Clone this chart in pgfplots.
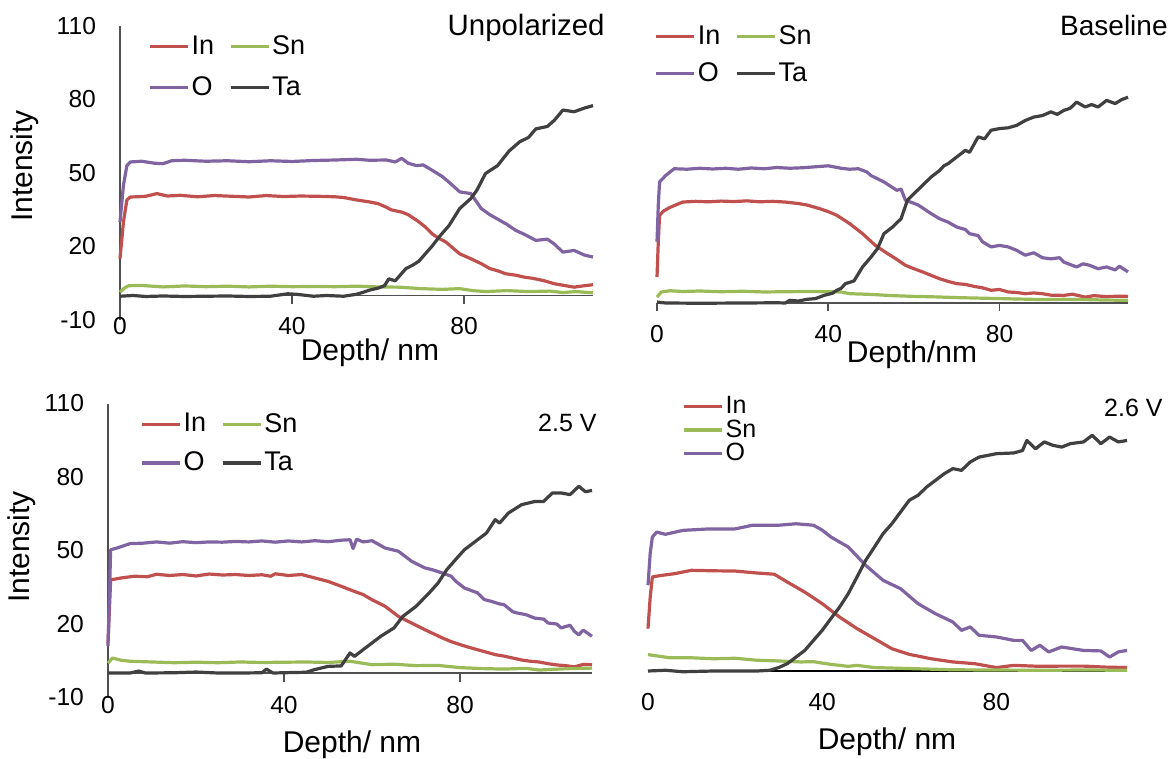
\documentclass[border=0pt]{standalone}
\usepackage{fontspec}
\setmainfont{Liberation Sans}
\usepackage{pgfplots}
\pgfplotsset{compat=1.18}

\definecolor{cIn}{HTML}{C0504D}
\definecolor{cSn}{HTML}{9BBB59}
\definecolor{cO}{HTML}{8064A2}
\definecolor{cTa}{HTML}{404040}
\definecolor{axiscol}{HTML}{505050}

\pgfplotsset{
  panel/.style={
    scale only axis, clip=false,
    xmin=0, xmax=110, ymin=-10, ymax=110,
    xtick={0,40,80}, ytick={-10,20,50,80,110},
    axis x line*=bottom, x axis line style={draw=none}, xtick style={draw=none},
    axis y line*=left, ytick style={draw=none},
    ticklabel style={font=\fontsize{12.3}{14}\selectfont, text=black},
    /pgf/number format/assume math mode=true,
    every axis plot/.append style={line width=1.6pt, line join=round},
    legend image code/.code={\draw[##1] (0pt,0pt) -- (19pt,0pt);},
    legend cell align=left,
    legend style={draw=none, fill=none, inner sep=0pt, anchor=north west,
      font=\fontsize{13.5}{15}\selectfont, nodes={inner sep=1pt},
      /tikz/every even column/.append style={column sep=6.5pt}},
  },
  withy/.style={y axis line style={axiscol, line width=0.8pt},
    yticklabel style={xshift=-8.5pt}},
  noy/.style={y axis line style={draw=none}, yticklabels={}},
}

\begin{document}
\begin{tikzpicture}
\path[use as bounding box] (0pt,0pt) rectangle (585.5pt,-379.5pt);

% ---------- Unpolarized ----------
\begin{axis}[panel, withy, at={(60pt,-160pt)}, anchor=south west,
  width=236.5pt, height=147pt,
  xticklabel style={yshift=5.1pt},
  legend columns=2,
  legend style={at={(0.059,0.975)}, row sep=7.5pt}]
\draw[axiscol, line width=0.8pt] (axis cs:0,0) -- (axis cs:110,0);
\draw[axiscol, line width=0.8pt] (axis cs:40,0) -- (axis cs:40,-3.6);
\draw[axiscol, line width=0.8pt] (axis cs:80,0) -- (axis cs:80,-3.6);
\addplot[cIn] coordinates {(0,15)(0.8,30)(1.6,39)(2.4,40.2)(4,40.3)(6,40.5)(8.6,41.6)(11,40.6)(14,40.9)(18,40.3)(22,40.8)(26,40.5)(30,40.2)(34,40.8)(38,40.4)(42,40.6)(46,40.5)(50,40.3)(52,40)(55,39)(58,38.2)(60,37.5)(62,36)(63,35)(65.6,34)(67,33)(69,30.7)(71,28)(72.7,25)(74,23.5)(75.8,21.8)(77,20)(79,17)(81.6,15)(84,13)(86,11)(88,10)(89.6,8.9)(92,8.3)(94,7.5)(96,7)(98.5,6.1)(101,4.8)(103,4.2)(105.6,3.4)(108,4)(110,4.4)};
\addlegendentry{In}
\addplot[cSn] coordinates {(0,1.4)(1,3)(2,4)(5,4.1)(10,3.5)(15,3.9)(20,3.6)(25,3.8)(30,3.5)(35,3.8)(40,3.6)(45,3.7)(50,3.6)(55,3.8)(60,3.5)(65,3.4)(70,2.8)(75,2.5)(79,2.8)(82,2)(85,1.6)(90,2)(95,1.6)(100,1.8)(103,1.2)(106,1.6)(110,1.1)};
\addlegendentry{Sn}
\addplot[cO] coordinates {(0,30)(0.8,45)(1.6,53)(2.4,54.5)(5,54.8)(8,54)(10,53.8)(12,55)(15,55.2)(20,54.8)(25,55)(30,54.6)(35,55)(40,54.7)(45,55.1)(50,55.3)(55,55.6)(58,55.2)(62,55.3)(64,54.5)(65.5,56)(67,54)(69,53)(70.5,53.3)(72.7,51)(75,48.5)(77,45.5)(79,42.3)(81.6,41.6)(84,35.5)(86,33)(88,31)(90,29)(92,26.6)(94,25)(96.7,22.5)(99.4,23)(101,21)(103,17.7)(105.6,18.4)(108,16.5)(110,15.7)};
\addlegendentry{O}
\addplot[cTa] coordinates {(0,-0.3)(3,0)(6,-0.4)(10,-0.2)(15,-0.4)(20,-0.3)(25,-0.2)(30,-0.4)(35,-0.3)(39,0.7)(41,0.5)(45,-0.3)(48,0)(52,-0.3)(55,0.5)(56.7,1.4)(58,2.2)(60,3)(61.5,4)(62.5,6.8)(64,6)(65,8)(66.5,11)(68,12.3)(69.5,14)(71,17)(72.5,20)(74.5,24.5)(76.5,28.5)(79,35.5)(81.6,39.6)(83,43)(85,49.8)(87.8,53)(90.5,59)(93,62.8)(95,64.5)(96.7,68)(99.4,69)(101,71.5)(103,75.7)(105.6,75)(108,76.5)(110,77.5)};
\addlegendentry{Ta}
\end{axis}

% ---------- Baseline ----------
\begin{axis}[panel, noy, at={(328.5pt,-163.75pt)}, anchor=south west,
  width=235.5pt, height=147pt,
  xticklabel style={yshift=4.85pt},
  legend columns=2,
  legend style={at={(-0.006,1.035)}, row sep=5.5pt}]
\draw[axiscol, line width=0.8pt] (axis cs:0,0) -- (axis cs:110,0);
\draw[axiscol, line width=0.8pt] (axis cs:0,0) -- (axis cs:0,-3.3);
\draw[axiscol, line width=0.8pt] (axis cs:40,0) -- (axis cs:40,-3.3);
\draw[axiscol, line width=0.8pt] (axis cs:80,0) -- (axis cs:80,-3.3);
\addplot[cIn] coordinates {(0,10.6)(0.3,25)(0.6,35.8)(1.5,37.5)(3,39)(6,41.2)(9,41.5)(12,41.3)(15,41.6)(18,41.4)(21,41.7)(24,41.3)(27,41.5)(30,41.2)(33,40.6)(35,40)(38,38.5)(40,37.3)(42,35.8)(45,32.4)(48,28.3)(51,23.5)(54,20)(56,17.8)(58,15.4)(60,14)(62,12.7)(64,11.3)(66,9.9)(68,8.8)(70,7.9)(72,7.6)(74,6.8)(76,6.2)(78,5.2)(80,5.5)(82,4.5)(84,4.3)(86,3.8)(88,4.1)(90,3.8)(92,3.2)(95,3.1)(97,3.6)(100,2.4)(102,3)(105,2.6)(108,2.8)(110,2.7)};
\addlegendentry{In}
\addplot[cSn] coordinates {(0,2.4)(1,4.5)(3,5)(6,4.7)(10,4.9)(15,4.6)(20,4.8)(25,4.5)(30,4.6)(35,4.7)(40,4.6)(43,4.5)(45,3.8)(50,3.5)(55,3)(60,2.7)(65,2.5)(70,2.2)(75,2)(80,1.8)(85,1.6)(90,1.4)(95,1.5)(100,1.4)(105,1.2)(110,1.1)};
\addlegendentry{Sn}
\addplot[cO] coordinates {(0,25)(0.3,40)(0.6,49.4)(2,52)(4,54.8)(7,54.6)(10,55)(13,54.7)(16,55)(19,54.6)(22,55.1)(25,54.8)(28,55.3)(31,55)(34,55.2)(37,55.6)(40,56)(43,55)(45,54.6)(47,54.8)(49,53.5)(50,52)(53,49.4)(56,46)(57,46.5)(58,42)(61,40)(64,36.5)(66,34.4)(68,33)(70,31)(72,30)(73,28.3)(75,27.5)(76,25)(78,22.9)(80,23.5)(82,22.9)(84,21.5)(86,19.5)(88,20.5)(90,18.5)(92,18)(94,18.5)(95,16.7)(98,14.7)(99.5,16)(101,15.4)(103,14)(105,14.7)(107,13.5)(108,15)(110,12.7)};
\addlegendentry{O}
\addplot[cTa] coordinates {(0,0.4)(2,0)(10,-0.1)(20,0)(28,0.1)(30,0)(31,1.1)(33,0.8)(35,1.5)(37,1.8)(39,3.1)(41,4)(42,5.2)(43,6)(44,7.9)(46,9)(48,14.7)(50,18.8)(51.5,22.2)(53,28.3)(55,31)(57,34.4)(58.5,42)(60,44.6)(62,48)(64,51.4)(66,54.1)(67,56)(68,56.9)(70,59.6)(72,62.3)(73,61.5)(75,67.8)(76.5,67)(78,70.5)(80,71.2)(82,71.5)(84,72.5)(86,74.5)(88,75.9)(90,76.5)(92,78)(93.5,77)(95,78.6)(96.5,79.5)(98,82)(100,80)(101.5,81)(103,80)(105,82.7)(107,81.4)(108.5,83)(110,84)};
\addlegendentry{Ta}
\end{axis}

% ---------- 2.5 V ----------
\begin{axis}[panel, withy, at={(54pt,-348.75pt)}, anchor=south west,
  width=242pt, height=147pt,
  xticklabel style={yshift=4pt},
  legend columns=2,
  legend style={at={(0.066,0.975)}, row sep=6.5pt}]
\draw[axiscol, line width=0.8pt] (axis cs:0,0) -- (axis cs:110,0);
\draw[axiscol, line width=0.8pt] (axis cs:40,0) -- (axis cs:40,-3.5);
\draw[axiscol, line width=0.8pt] (axis cs:80,0) -- (axis cs:80,-3.5);
\addplot[cIn] coordinates {(0,12.2)(0.3,25)(0.6,38)(3,38.8)(6,39.5)(9,39.3)(11,40.3)(14,39.8)(17,40.2)(20,39.6)(23,40.4)(26,40)(29,40.2)(32,39.8)(35,40.1)(37,39.5)(38,40.5)(41,39.8)(44,40.2)(47,38.8)(50,37.4)(53,35.4)(56,33.3)(58,32)(60,29.9)(63,27.2)(66,23.1)(69,20.4)(72,17.7)(74,16)(76,14.3)(78,12.8)(80,11.6)(82,10.5)(84,9.5)(86,8.5)(88,7.5)(90,6.9)(92,6.1)(94,5.3)(96,4.8)(98,4.5)(100,3.8)(102,3.3)(104,3)(106,2.5)(108,3.5)(110,3.4)};
\addlegendentry{In}
\addplot[cSn] coordinates {(0,4)(1,6.1)(3,5.2)(5,4.8)(10,4.5)(15,4.2)(20,4.4)(25,4.2)(30,4.5)(35,4.3)(40,4.4)(45,4.5)(50,4.3)(55,4.8)(60,3.4)(65,3.6)(70,3)(75,3.1)(80,2.2)(85,1.8)(90,1.6)(95,1.9)(98,1.2)(100,1.4)(105,1.8)(110,2)};
\addlegendentry{Sn}
\addplot[cO] coordinates {(0,11)(0.3,30)(0.6,50.3)(2,51)(5,52.8)(8,53)(11,53.5)(14,53)(17,53.6)(20,53.2)(23,53.5)(26,53.4)(29,53.7)(32,53.5)(35,53.9)(38,53.4)(41,53.9)(44,53.5)(47,54)(50,53.6)(53,54.2)(55,54.4)(55.7,50.8)(56.5,54.6)(58,53.5)(60,54)(63,51)(66,49.7)(69,45.6)(72,42.9)(74,42)(76,40.8)(78,39.5)(79,37.5)(81,34.7)(84,32.7)(85.5,30)(87,29.3)(89,28.2)(90,27.9)(92,25)(93,24.5)(95,23.8)(97,22.4)(99,22)(100,20.4)(102,20)(103,18.4)(105,19.5)(106,17)(107,15.6)(108,17.5)(110,15)};
\addlegendentry{O}
\addplot[cTa] coordinates {(0,0)(5,0)(7,0.8)(8.5,0)(15,0.1)(20,0.4)(25,0)(30,0)(35,0.1)(36,1.6)(37.5,0)(42,0.2)(45,0.3)(47,1.4)(50,2.7)(53,2.9)(55,8.2)(56,6.8)(59,10.9)(62,15)(65,18.4)(67,23.1)(70,27.2)(73,32.7)(75,36.7)(77,42.2)(79,46.3)(81,50.3)(84,54.4)(86,57.1)(88,62.6)(89,61.2)(91,65.3)(94,68.7)(97,70)(99,70)(101,73.5)(103,73.5)(105,72.8)(107,76.2)(108.5,74)(110,74.5)};
\addlegendentry{Ta}
\end{axis}

% ---------- 2.6 V ----------
\begin{axis}[panel, noy, at={(324pt,-347.75pt)}, anchor=south west,
  width=239.5pt, height=147pt,
  xticklabel style={yshift=4.85pt},
  legend columns=1,
  legend style={at={(0.071,1.025)}, row sep=-0.5pt, font=\fontsize{12.5}{13}\selectfont}]
\draw[black, line width=0.6pt] (axis cs:0,0) -- (axis cs:110,0);
\addplot[cIn] coordinates {(0,17.3)(0.5,30)(1,38.4)(3,39)(6,39.7)(10,41.1)(15,40.9)(20,40.8)(25,40)(29,39.5)(32,36.3)(36,32.2)(40,27.5)(44,22)(48,17.3)(52,13.2)(56,9.1)(60,6.8)(65,5)(70,3.7)(75,3)(80,1.4)(84,2.3)(90,1.9)(95,2)(100,2)(105,1.6)(110,1.4)};
\addlegendentry{In}
\addplot[cSn] coordinates {(0,6.7)(5,5.4)(10,5.4)(15,5)(20,5.2)(25,4.4)(30,4.1)(35,3.7)(38,3.8)(42,2.7)(46,1.9)(48,2.3)(52,1.4)(60,1)(70,0.5)(80,0.4)(90,0.3)(100,0.4)(110,0.3)};
\addlegendentry{Sn}
\addplot[cO] coordinates {(0,35)(0.5,48)(1,54.7)(2,56.7)(4,55.8)(8,57.4)(14,58)(20,58)(24,59.5)(30,59.5)(34,60.1)(38,59.5)(40,57.5)(42,54.7)(46,50.6)(50,43.1)(54,37)(58,33.6)(62,27.5)(66,23.4)(70,20)(72,16.6)(74,18)(76,14.6)(80,13.9)(84,12.5)(86,12.5)(88,8.4)(90,10.5)(92,7.8)(95,9.8)(100,8.4)(104,8.2)(106,5.7)(108,7.8)(110,8.4)};
\addlegendentry{O}
\addplot[cTa, forget plot] coordinates {(0,0)(4,0.3)(8,-0.3)(15,0)(25,0)(28,0.3)(30,1.4)(32,3)(34,5.7)(36,8.4)(38,12.5)(40,16.6)(42,21.4)(44,26.1)(46,31.6)(48,38.4)(50,45.2)(52,50.6)(54,56.1)(56,60.1)(58,64.9)(60,69.7)(62,71.7)(64,75.1)(66,77.8)(68,80.5)(70,82.6)(72,81.9)(74,85.3)(76,87.3)(80,88.7)(84,89)(86,90)(87,94.1)(89,90.7)(91,93.5)(93,92.1)(95,91.4)(97,92.8)(100,93.5)(102,96.2)(104,92.8)(106,95.5)(108,93.5)(110,94.1)};
\end{axis}

% titles and axis labels
\begin{scope}[every node/.style={inner sep=0pt, text=black}]
\node[font=\fontsize{15}{18}\selectfont, rotate=90] at (12.5pt,-83pt) {Intensity};
\node[font=\fontsize{15}{18}\selectfont, rotate=90] at (11pt,-273.5pt) {Intensity};
\node[font=\fontsize{15}{18}\selectfont] at (185pt,-176.5pt) {Depth/ nm};
\node[font=\fontsize{15}{18}\selectfont] at (456pt,-177.5pt) {Depth/nm};
\node[font=\fontsize{15}{18}\selectfont] at (176pt,-372.5pt) {Depth/ nm};
\node[font=\fontsize{15}{18}\selectfont] at (443.5pt,-371pt) {Depth/ nm};
\node[font=\fontsize{14.7}{17}\selectfont, anchor=east] at (302.5pt,-14pt) {Unpolarized};
\node[font=\fontsize{14}{17}\selectfont, anchor=east] at (584pt,-12.5pt) {Baseline};
\node[font=\fontsize{12.5}{15}\selectfont, anchor=east] at (298.5pt,-211.5pt) {2.5 V};
\node[font=\fontsize{12.5}{15}\selectfont, anchor=east] at (581.5pt,-204pt) {2.6 V};
\end{scope}
\end{tikzpicture}
\end{document}
